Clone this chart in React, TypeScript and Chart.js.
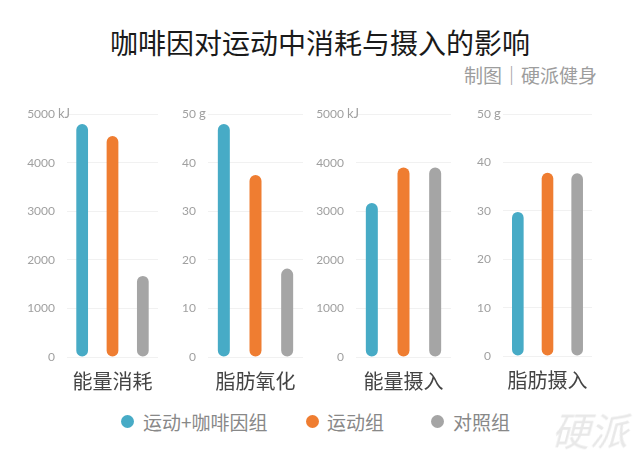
import React, { useEffect, useRef } from "react";
import { Chart, registerables } from "chart.js";

Chart.register(...registerables);

// ---- data ----
const seriesNames = ["运动+咖啡因组", "运动组", "对照组"];
const seriesColors = ["#47ABC6", "#EF7D31", "#A5A5A5"];
const panelTitles = ["能量消耗", "脂肪氧化", "能量摄入", "脂肪摄入"];
const panelUnits = ["kJ", "g", "kJ", "g"];
const panelMax = [5000, 50, 5000, 50];
const panelStep = [1000, 10, 1000, 10];
const caffeineValues = [4800, 48, 3170, 29.8];
const exerciseValues = [4550, 37.5, 3900, 37.9];
const controlValues = [1670, 18.2, 3900, 37.8];
const seriesValues = [caffeineValues, exerciseValues, controlValues];

const titleText = "咖啡因对运动中消耗与摄入的影响";
const subtitleText = "制图｜硬派健身";
const watermarkText = "硬派";

// ---- layout (pixels) ----
const panelLayout = [
  { chartLeft: 67, chartRight: 160, top: 112, zero: 357 },
  { chartLeft: 208, chartRight: 303, top: 112, zero: 357 },
  { chartLeft: 356, chartRight: 451, top: 113, zero: 357 },
  { chartLeft: 503, chartRight: 595, top: 114, zero: 356 },
];
const AXIS_W = 50;
const CANVAS_TOP = 95;
const CANVAS_BOTTOM = 405;
const RIGHT_PAD = 10;
const CJK = '"Noto Sans CJK SC", "Noto Sans", sans-serif';
const NUM = 'Lato, "Open Sans", sans-serif';

const unitPlugin = {
  id: "unitLabel",
  afterDraw(chart: any) {
    const unit = chart.options.plugins.unitLabel?.unit;
    if (!unit) return;
    const ys = chart.scales.y;
    const ctx = chart.ctx;
    const maxV = ys.max;
    const pad = ys.options.ticks.padding;
    const x = ys.right - pad + 3;
    const y = ys.getPixelForValue(maxV);
    ctx.save();
    ctx.font = `13px ${NUM}`;
    ctx.fillStyle = "#a0a0a0";
    ctx.textAlign = "left";
    ctx.textBaseline = "middle";
    ctx.fillText(unit, x, y);
    ctx.restore();
  },
};

function Panel({ index }: { index: number }) {
  const ref = useRef<HTMLCanvasElement | null>(null);
  const lay = panelLayout[index];
  const canvasLeft = lay.chartLeft - AXIS_W;
  const width = lay.chartRight + RIGHT_PAD - canvasLeft;
  const height = CANVAS_BOTTOM - CANVAS_TOP;
  const plotW = lay.chartRight - lay.chartLeft;
  const barPct = 12 / (plotW / 3);

  useEffect(() => {
    if (!ref.current) return;
    const chart = new Chart(ref.current, {
      type: "bar",
      data: {
        labels: [panelTitles[index]],
        datasets: seriesNames.map((name, i) => ({
          label: name,
          data: [seriesValues[i][index]],
          backgroundColor: seriesColors[i],
          borderRadius: 6,
          borderSkipped: false,
          categoryPercentage: 1,
          barPercentage: barPct,
        })),
      },
      options: {
        responsive: false,
        maintainAspectRatio: false,
        animation: false,
        devicePixelRatio: 1,
        layout: {
          padding: { top: lay.top - CANVAS_TOP, right: RIGHT_PAD, left: 0, bottom: 0 },
        },
        plugins: {
          legend: { display: false },
          tooltip: { enabled: false },
          title: { display: false },
          unitLabel: { unit: panelUnits[index] },
        } as any,
        scales: {
          x: {
            grid: { display: false, drawTicks: false },
            border: { display: false },
            ticks: {
              color: "#444",
              font: { family: CJK, size: 20 },
              padding: 12.5,
            },
            afterFit(scale: any) {
              scale.height = CANVAS_BOTTOM - lay.zero;
            },
          },
          y: {
            min: 0,
            max: panelMax[index],
            ticks: {
              stepSize: panelStep[index],
              color: "#a0a0a0",
              font: { family: NUM, size: 12 },
              padding: 12,
              callback: (v: any) => String(v),
            },
            grid: { color: "#f1f1f1", drawTicks: false, lineWidth: 1 },
            border: { display: false },
            afterFit(scale: any) {
              scale.width = AXIS_W;
            },
          },
        },
      },
      plugins: [unitPlugin],
    });
    return () => chart.destroy();
  }, [index]);

  return (
    <canvas
      ref={ref}
      width={width}
      height={height}
      style={{
        position: "absolute",
        left: canvasLeft,
        top: CANVAS_TOP,
        width,
        height,
      }}
    />
  );
}

const legendPos = [
  { dot: 127, text: 143 },
  { dot: 312, text: 327 },
  { dot: 437, text: 453 },
];

export default function App() {
  return (
    <div
      style={{
        position: "absolute",
        left: 0,
        top: 0,
        width: 640,
        height: 454,
        background: "#fff",
        overflow: "hidden",
        fontFamily: CJK,
      }}
    >
      <div
        style={{
          position: "absolute",
          left: 0,
          width: 640,
          top: 28,
          textAlign: "center",
          fontSize: 28,
          lineHeight: "28px",
          color: "#1a1a1a",
          whiteSpace: "nowrap",
        }}
      >
        {titleText}
      </div>
      <div
        style={{
          position: "absolute",
          right: 640 - 597,
          top: 65,
          fontSize: 19,
          lineHeight: "19px",
          color: "#9d9d9d",
          whiteSpace: "nowrap",
        }}
      >
        {subtitleText}
      </div>
      {panelTitles.map((_, i) => (
        <Panel key={i} index={i} />
      ))}
      {seriesNames.map((name, i) => (
        <React.Fragment key={name}>
          <div
            style={{
              position: "absolute",
              left: legendPos[i].dot - 6.5,
              top: 421 - 6.5,
              width: 13,
              height: 13,
              borderRadius: "50%",
              background: seriesColors[i],
            }}
          />
          <div
            style={{
              position: "absolute",
              left: legendPos[i].text,
              top: 412,
              fontSize: 19,
              lineHeight: "19px",
              color: "#888",
              whiteSpace: "nowrap",
            }}
          >
            {name}
          </div>
        </React.Fragment>
      ))}
      <div
        style={{
          position: "absolute",
          left: 556,
          top: 410,
          fontSize: 38,
          lineHeight: "38px",
          fontWeight: 400,
          color: "#e8e8e8",
          whiteSpace: "nowrap",
          transform: "skewX(-15deg)",
        }}
      >
        {watermarkText}
      </div>
    </div>
  );
}
